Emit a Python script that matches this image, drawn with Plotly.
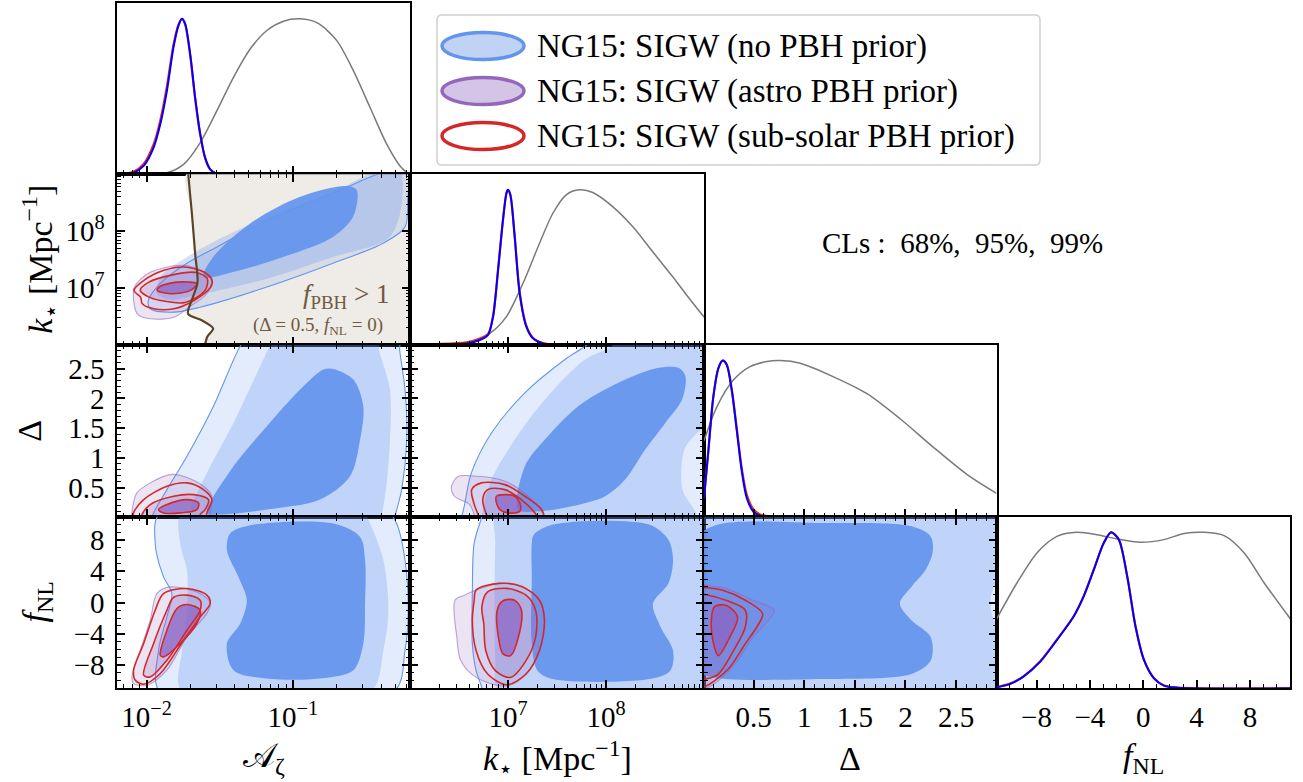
import numpy as np
import plotly.graph_objects as go

W, H = 1303, 782

# ---------------- axis ranges and ticks ----------------
A_RANGE_LOG = [-2.2, -0.2]      # log10 A_zeta
K_RANGE_LOG = [6.0, 9.0]        # log10 k_star
D_RANGE = [0.01, 2.9]
F_RANGE = [-11.0, 11.0]
DIAG_RANGE = [0.0, 1.1]

A_TICKS = [0.01, 0.1]
A_TICKTEXT = ["10<sup>−2</sup>", "10<sup>−1</sup>"]
A_MINOR = [0.007, 0.008, 0.009, 0.02, 0.03, 0.04, 0.05, 0.06, 0.07, 0.08, 0.09,
           0.2, 0.3, 0.4, 0.5, 0.6]
K_TICKS = [1e7, 1e8]
K_TICKTEXT = ["10<sup>7</sup>", "10<sup>8</sup>"]
K_MINOR = [2e6, 3e6, 4e6, 5e6, 6e6, 7e6, 8e6, 9e6, 2e7, 3e7, 4e7, 5e7, 6e7, 7e7, 8e7, 9e7,
           2e8, 3e8, 4e8, 5e8, 6e8, 7e8, 8e8, 9e8]
D_TICKS = [0.5, 1.0, 1.5, 2.0, 2.5]
D_TICKTEXT = ["0.5", "1", "1.5", "2", "2.5"]
D_MINOR = [0.1, 0.2, 0.3, 0.4, 0.6, 0.7, 0.8, 0.9, 1.1, 1.2, 1.3, 1.4, 1.6, 1.7, 1.8, 1.9,
           2.1, 2.2, 2.3, 2.4, 2.6, 2.7, 2.8]
F_TICKS = [-8, -4, 0, 4, 8]
F_TICKTEXT = ["−8", "−4", "0", "4", "8"]
F_MINOR = [-10, -9, -7, -6, -5, -3, -2, -1, 1, 2, 3, 5, 6, 7, 9, 10]

# ---------------- 1D marginals (A and k in log10) ----------------
A_MARG_X = [-2.157, -2.089, -2.02, -1.952, -1.906, -1.861, -1.816, -1.782, -1.758, -1.736,
            -1.702, -1.668, -1.633, -1.6, -1.565, -1.52, -1.4]
A_MARG_BLUE = [0.0, 0.01, 0.054, 0.172, 0.323, 0.537, 0.817, 0.957, 1.0, 0.968,
               0.774, 0.494, 0.258, 0.107, 0.032, 0.004, 0.0]
A_MARG_RED = [0.002, 0.016, 0.066, 0.192, 0.348, 0.565, 0.834, 0.962, 1.0, 0.962,
              0.765, 0.486, 0.252, 0.104, 0.031, 0.004, 0.0]
A_PRIOR_X = [-2.2, -1.997, -1.861, -1.747, -1.633, -1.52, -1.406, -1.292, -1.178, -1.065,
             -0.95, -0.83, -0.7, -0.587, -0.473, -0.359, -0.268, -0.212]
A_PRIOR_Y = [0.0, 0.0, 0.01, 0.064, 0.204, 0.408, 0.624, 0.806, 0.925, 0.985,
             1.0, 0.972, 0.86, 0.667, 0.43, 0.194, 0.054, 0.004]

K_MARG_X = [6.0, 6.237, 6.577, 6.712, 6.797, 6.848, 6.899, 6.949, 6.984, 7.0, 7.024,
            7.068, 7.119, 7.187, 7.254, 7.356, 7.492, 9.0]
K_MARG_BLUE = [0.0, 0.003, 0.01, 0.032, 0.065, 0.183, 0.484, 0.806, 0.978, 1.0, 0.968,
               0.699, 0.333, 0.118, 0.043, 0.01, 0.0, 0.0]
K_MARG_RED = [0.0, 0.006, 0.018, 0.042, 0.072, 0.19, 0.49, 0.81, 0.978, 1.0, 0.968,
              0.705, 0.34, 0.125, 0.047, 0.012, 0.0, 0.0]
K_PRIOR_X = [6.0, 6.577, 6.814, 6.984, 7.153, 7.322, 7.458, 7.594, 7.729, 7.865, 8.068,
             8.272, 8.475, 8.679, 8.848, 9.0]
K_PRIOR_Y = [0.0, 0.01, 0.075, 0.183, 0.398, 0.656, 0.849, 0.968, 1.0, 0.983, 0.892,
             0.763, 0.602, 0.441, 0.301, 0.18]

D_MARG_X = [0.01, 0.053, 0.102, 0.152, 0.195, 0.235, 0.284, 0.334, 0.383, 0.433, 0.498,
            0.564, 0.696, 2.9]
D_MARG_BLUE = [0.119, 0.421, 0.767, 0.951, 1.0, 0.972, 0.81, 0.551, 0.292, 0.119, 0.032,
               0.006, 0.0, 0.0]
D_MARG_RED = [0.119, 0.421, 0.767, 0.951, 1.0, 0.975, 0.818, 0.565, 0.31, 0.14, 0.048,
              0.014, 0.002, 0.0]
D_PRIOR_X = [0.01, 0.136, 0.3, 0.465, 0.631, 0.762, 0.96, 1.29, 1.62, 1.95, 2.28, 2.61, 2.9]
D_PRIOR_Y = [0.486, 0.702, 0.875, 0.961, 0.994, 1.0, 0.983, 0.896, 0.788, 0.626, 0.443,
             0.27, 0.15]

F_MARG_X = [-11.0, -9.98, -8.98, -7.72, -6.47, -5.22, -4.47, -3.71, -2.96, -2.41, -1.83,
            -1.2, -0.58, 0.05, 0.8, 1.55, 2.56, 11.0]
F_MARG_BLUE = [0.006, 0.028, 0.075, 0.171, 0.31, 0.46, 0.589, 0.76, 0.932, 1.0, 0.953,
               0.717, 0.396, 0.182, 0.064, 0.017, 0.004, 0.0]
F_MARG_RED = [0.007, 0.03, 0.077, 0.173, 0.312, 0.46, 0.589, 0.76, 0.932, 1.0, 0.953,
              0.717, 0.398, 0.184, 0.066, 0.018, 0.004, 0.0]
F_PRIOR_X = [-11.03, -9.47, -7.97, -6.47, -4.96, -3.46, -1.95, -0.2, 1.55, 3.05, 4.56,
             6.06, 7.57, 9.07, 11.08]
F_PRIOR_Y = [0.439, 0.675, 0.868, 0.974, 1.0, 0.985, 0.957, 0.936, 0.953, 0.992, 1.0,
             0.979, 0.868, 0.675, 0.439]

# ---------------- f_PBH > 1 boundary (log10 A, log10 k) ----------------
PBH_A = [-1.717, -1.69, -1.668, -1.652, -1.688, -1.717, -1.62, -1.545, -1.586, -1.604]
PBH_K = [9.05, 8.3, 7.6, 7.1, 6.81, 6.55, 6.43, 6.29, 6.14, 5.95]

# ---------------- 2D contours ----------------
# A-k panel (log10 A, log10 k)
AK_BLUE99 = [(-1.975, 6.637), (-1.816, 6.577), (-1.633, 6.665), (-1.178, 7.018), (-0.726, 7.436),
             (-0.384, 7.788), (-0.234, 8.076), (-0.215, 8.6), (-0.2, 9.08), (-0.33, 9.08),
             (-0.726, 8.67), (-1.176, 8.194), (-1.519, 7.723), (-1.724, 7.436), (-1.906, 7.083),
             (-1.988, 6.783)]
AK_BLUE95 = [(-1.724, 6.841), (-1.178, 7.166), (-0.726, 7.547), (-0.35, 7.871), (-0.268, 8.317),
             (-0.27, 9.08), (-0.4, 9.08), (-0.726, 8.693), (-1.178, 8.247), (-1.519, 7.841),
             (-1.724, 7.547), (-1.906, 7.194), (-1.929, 6.906), (-1.84, 6.8)]
AK_BLUE68 = [(-1.611, 7.194), (-1.408, 7.282), (-1.067, 7.547), (-0.726, 7.9), (-0.589, 8.252),
             (-0.564, 8.723), (-0.632, 8.794), (-0.951, 8.605), (-1.292, 8.136), (-1.545, 7.547)]
AK_PURPLE99 = [(-2.091, 6.901), (-2.063, 6.548), (-1.975, 6.46), (-1.813, 6.489), (-1.702, 6.677),
               (-1.6, 6.87), (-1.552, 7.083), (-1.6, 7.277), (-1.75, 7.4), (-1.975, 7.277),
               (-2.077, 7.05)]
AK_RED99 = [(-2.086, 6.96), (-2.041, 6.84), (-2.029, 6.725), (-1.95, 6.637), (-1.813, 6.637),
            (-1.676, 6.783), (-1.563, 7.018), (-1.552, 7.136), (-1.608, 7.282), (-1.745, 7.37),
            (-1.881, 7.312), (-2.018, 7.136)]
AK_RED95 = [(-2.043, 6.96), (-1.99, 6.85), (-1.906, 6.783), (-1.736, 6.748), (-1.6, 6.96),
            (-1.586, 7.17), (-1.668, 7.277), (-1.838, 7.224), (-1.988, 7.1)]
AK_RED68 = [(-1.927, 6.96), (-1.836, 6.901), (-1.7, 6.96), (-1.654, 7.078), (-1.711, 7.106),
            (-1.836, 7.088), (-1.915, 7.018)]

# A-Delta panel (log10 A, Delta)
AD_BLUE99 = [(-1.97, -0.15), (-1.963, 0.01), (-1.861, 0.466), (-1.724, 1.027), (-1.543, 1.869),
             (-1.36, 2.879), (-1.3, 3.05), (-0.28, 3.05), (-0.27, 2.8), (-0.234, 2.15),
             (-0.222, 1.308), (-0.257, 0.466), (-0.302, 0.01), (-0.31, -0.15)]
AD_BLUE95 = [(-1.73, -0.15), (-1.724, 0.01), (-1.588, 0.747), (-1.406, 1.589), (-1.224, 2.542),
             (-1.156, 2.9), (-1.13, 3.05), (-0.43, 3.05), (-0.41, 2.8), (-0.337, 2.15),
             (-0.337, 1.308), (-0.359, 0.579), (-0.393, 0.01), (-0.4, -0.15)]
AD_BLUE68 = [(-1.588, 0.074), (-1.406, 0.859), (-1.178, 1.532), (-0.951, 2.15), (-0.792, 2.487),
             (-0.724, 2.498), (-0.587, 2.318), (-0.519, 1.869), (-0.541, 1.308), (-0.61, 0.69),
             (-0.814, 0.298), (-1.178, 0.13), (-1.497, 0.045)]
AD_PURPLE99 = [(-2.09, -0.1), (-2.089, 0.242), (-2.066, 0.41), (-1.975, 0.579), (-1.838, 0.719),
               (-1.747, 0.69), (-1.611, 0.522), (-1.554, 0.354), (-1.565, 0.074), (-1.58, -0.1)]
AD_RED99 = [(-2.095, -0.1), (-2.089, 0.074), (-2.02, 0.298), (-1.861, 0.522), (-1.724, 0.579),
            (-1.611, 0.466), (-1.554, 0.298), (-1.588, 0.074), (-1.6, -0.1)]
AD_RED95 = [(-2.04, -0.1), (-2.031, 0.045), (-1.975, 0.214), (-1.816, 0.354), (-1.68, 0.382),
            (-1.577, 0.298), (-1.6, 0.13), (-1.634, 0.045), (-1.645, -0.1)]
AD_RED68 = [(-1.918, 0.13), (-1.861, 0.214), (-1.724, 0.298), (-1.645, 0.242), (-1.656, 0.13),
            (-1.77, 0.074), (-1.884, 0.074)]

# A-fNL panel (log10 A, fNL)
AF_BLUE99 = [(-1.906, 11.5), (-1.941, 7.56), (-1.884, 3.28), (-1.827, 1.15), (-1.861, -1.85),
             (-1.918, -6.12), (-1.906, -11.5), (-0.314, -11.5), (-0.234, -6.12), (-0.212, -0.99),
             (-0.234, 5.42), (-0.291, 10.1), (-0.348, 11.5)]
AF_BLUE95 = [(-1.758, 11.5), (-1.77, 7.56), (-1.724, 4.14), (-1.724, -0.99), (-1.758, -6.12),
             (-1.758, -11.5), (-0.473, -11.5), (-0.382, -6.12), (-0.348, -0.99), (-0.382, 5.42),
             (-0.473, 10.1), (-0.519, 11.5)]
AF_BLUE68 = [(-1.429, 8.85), (-1.292, 9.91), (-0.724, 10.13), (-0.541, 8.41), (-0.507, 5.42),
             (-0.507, -0.13), (-0.519, -5.26), (-0.587, -8.68), (-0.814, -9.74), (-1.178, -9.74),
             (-1.406, -8.68), (-1.451, -5.26), (-1.36, -2.69), (-1.315, 0.29), (-1.372, 3.28),
             (-1.451, 6.71)]
AF_PURPLE99 = [(-2.1, -9.54), (-2.043, -6.12), (-1.975, -2.27), (-1.929, 1.15), (-1.838, 2.0),
               (-1.634, 1.15), (-1.565, -0.13), (-1.588, -1.41), (-1.724, -4.41), (-1.861, -8.68),
               (-1.997, -10.6), (-2.089, -10.4)]
AF_RED99 = [(-2.089, -8.68), (-2.02, -5.26), (-1.941, -0.99), (-1.884, 1.15), (-1.724, 1.79),
            (-1.588, 0.94), (-1.565, -0.13), (-1.634, -1.85), (-1.747, -4.83), (-1.906, -9.1),
            (-2.02, -10.47), (-2.077, -9.96)]
AF_RED95 = [(-2.02, -9.32), (-1.952, -5.26), (-1.861, -0.99), (-1.816, 0.64), (-1.724, 0.94),
            (-1.634, 0.29), (-1.634, -0.99), (-1.724, -3.55), (-1.861, -7.4), (-1.975, -9.54)]
AF_RED68 = [(-1.906, -6.76), (-1.861, -3.55), (-1.792, -0.77), (-1.724, -0.26), (-1.634, -0.99),
            (-1.656, -2.69), (-1.77, -5.26), (-1.884, -6.97)]

# k-Delta panel (log10 k, Delta)
KD_BLUE99 = [(6.45, -0.15), (6.524, 0.01), (6.626, 0.747), (6.831, 1.42), (7.172, 2.094),
             (7.581, 2.655), (7.786, 2.879), (7.9, 3.05), (9.2, 3.05), (9.2, -0.15)]
KD_BLUE95 = [(6.72, -0.15), (6.729, 0.01), (6.831, 0.635), (7.07, 1.308), (7.377, 1.981),
             (7.786, 2.655), (8.059, 2.879), (8.12, 3.05), (9.2, 3.05), (9.05, 1.55),
             (8.93, 1.42), (8.8, 1.14), (8.78, 0.466), (8.9, 0.13), (8.96, -0.05), (9.2, -0.15)]
KD_BLUE68 = [(7.103, 0.13), (7.172, 0.859), (7.377, 1.308), (7.717, 1.869), (8.127, 2.263),
             (8.536, 2.515), (8.741, 2.515), (8.81, 2.374), (8.776, 1.981), (8.605, 1.589),
             (8.4, 1.14), (8.195, 0.635), (7.991, 0.354), (7.65, 0.185), (7.308, 0.101)]
KD_PURPLE99 = [(6.422, 0.5), (6.489, 0.685), (6.694, 0.69), (6.916, 0.635), (7.07, 0.522),
               (7.308, 0.185), (7.377, -0.1), (6.71, -0.1), (6.609, 0.214), (6.455, 0.35)]
KD_RED99 = [(6.733, -0.1), (6.65, 0.247), (6.63, 0.466), (6.729, 0.579), (6.967, 0.55),
            (7.172, 0.354), (7.343, 0.13), (7.387, -0.1)]
KD_RED95 = [(6.814, -0.1), (6.742, 0.298), (6.793, 0.466), (6.967, 0.466), (7.172, 0.248),
            (7.305, 0.0), (7.325, -0.1)]
KD_RED68 = [(6.882, 0.354), (6.967, 0.382), (7.07, 0.354), (7.121, 0.242), (7.121, 0.101),
            (7.001, 0.074), (6.916, 0.13), (6.882, 0.242)]

# k-fNL panel (log10 k, fNL)
KF_BLUE99 = [(6.74, 11.5), (6.733, 11.0), (6.655, 7.62), (6.636, 1.15), (6.636, -5.29),
             (6.674, -8.74), (6.733, -10.9), (6.74, -11.5), (9.2, -11.5), (9.2, 11.5)]
KF_BLUE95 = [(6.89, 11.5), (6.871, 7.62), (6.863, -0.99), (6.871, -7.45), (6.91, -11.5),
             (9.2, -11.5), (9.2, 11.5)]
KF_BLUE68 = [(7.263, 8.69), (7.459, 9.99), (8.439, 9.99), (8.636, 8.05), (8.684, 5.46),
             (8.636, 2.45), (8.479, -0.13), (8.557, -3.14), (8.684, -6.15), (8.656, -8.74),
             (8.439, -9.82), (7.459, -9.82), (7.302, -8.74), (7.243, -5.29), (7.243, 3.31),
             (7.243, 7.62)]
KF_PURPLE99 = [(6.459, 0.29), (6.55, 0.9), (6.674, 1.59), (6.91, 2.45), (7.145, 2.03),
               (7.321, 0.29), (7.372, -2.28), (7.321, -6.15), (7.184, -9.17), (6.989, -10.68),
               (6.674, -9.6), (6.518, -7.45), (6.478, -4.47)]
KF_RED99 = [(6.655, 0.29), (6.674, 1.59), (6.91, 2.45), (7.145, 2.03), (7.321, 0.29),
            (7.372, -2.28), (7.321, -6.15), (7.184, -9.17), (6.989, -10.55), (6.792, -9.17),
            (6.674, -6.15), (6.636, -2.28)]
KF_RED95 = [(6.792, 1.37), (6.989, 1.81), (7.184, 0.94), (7.282, -0.99), (7.282, -4.44),
            (7.184, -7.45), (7.027, -9.6), (6.871, -8.74), (6.773, -6.15), (6.753, -2.72),
            (6.733, -0.56)]
KF_RED68 = [(6.89, -0.99), (6.949, 0.22), (7.067, 0.29), (7.137, -0.99), (7.106, -4.44),
            (7.027, -6.81), (6.949, -6.59), (6.902, -4.44)]

# Delta-fNL panel (Delta, fNL)
DF_BLUE99 = [(-0.2, -12.0), (3.1, -12.0), (3.1, 12.0), (-0.2, 12.0)]
DF_BLUE95 = [(-0.2, -12.0), (3.1, -12.0), (3.1, -3.5), (2.92, -3.0), (2.86, -1.8), (2.84, 0.0),
             (2.86, 1.5), (2.92, 2.8), (3.1, 3.3), (3.1, 12.0), (-0.2, 12.0)]
DF_BLUE68 = [(0.15, 10.0), (1.18, 10.2), (2.06, 9.77), (2.25, 8.47), (2.27, 6.5), (2.2, 4.2),
             (2.06, 2.03), (1.945, -0.13), (2.06, -2.28), (2.25, -4.44), (2.25, -7.45),
             (2.06, -9.17), (1.18, -9.82), (0.11, -9.6), (-0.05, -8.7), (-0.05, 8.3)]
DF_PURPLE99 = [(-0.05, 2.3), (0.03, 2.23), (0.227, 1.81), (0.494, 0.29), (0.705, -0.99),
               (0.648, -2.28), (0.494, -4.44), (0.342, -7.45), (0.151, -10.04), (0.03, -11.0),
               (-0.05, -11.2)]
DF_RED99 = [(-0.05, 1.95), (0.03, 1.9), (0.187, 1.59), (0.418, 0.29), (0.589, -1.42),
            (0.532, -3.14), (0.418, -5.29), (0.265, -8.31), (0.113, -10.04), (0.03, -10.7),
            (-0.05, -10.8)]
DF_RED95 = [(-0.05, 1.1), (0.03, 1.0), (0.227, 0.29), (0.418, -0.99), (0.418, -3.14),
            (0.303, -6.15), (0.151, -9.17), (0.03, -9.8), (-0.05, -9.9)]
DF_RED68 = [(0.113, -0.56), (0.227, -0.35), (0.342, -1.86), (0.265, -4.44), (0.151, -6.81),
            (0.105, -5.29), (0.082, -2.28)]

# ---------------- styles ----------------
BLUE_LINE = "rgb(100,149,237)"
B99_FILL = "rgba(100,149,237,0.18)"
B95_FILL = "rgba(100,149,237,0.28)"
B68_FILL = "rgba(100,149,237,0.93)"
PURPLE_LINE = "rgba(148,103,189,0.6)"
P99_FILL = "rgba(148,103,189,0.18)"
P95_FILL = "rgba(148,103,189,0.22)"
P68_FILL = "rgba(140,100,195,0.72)"
RED = "#d62728"
BEIGE = "#efebe7"
BROWN = "#5e4427"
TEXT_BROWN = "#705a40"
SERIF = "Liberation Serif, Times New Roman, serif"

# ---------------- layout geometry (pixels) ----------------
COLS = {1: (117.3, 410.0), 2: (410.0, 704.0), 3: (704.0, 996.5), 4: (996.5, 1290.0)}
ROWS = {1: (3.3, 174.3), 2: (174.3, 345.0), 3: (345.0, 516.7), 4: (516.7, 688.3)}
VARS = {1: "A", 2: "k", 3: "D", 4: "f"}
PANELS = [(1, 1), (2, 1), (2, 2), (3, 1), (3, 2), (3, 3), (4, 1), (4, 2), (4, 3), (4, 4)]
IDX = {p: i + 1 for i, p in enumerate(PANELS)}


def px(x):
    return x / W


def py(y):
    return 1 - y / H


def conv(var, vals):
    v = np.asarray(vals, dtype=float)
    return np.power(10.0, v) if var in ("A", "k") else v


def axis_spec(var):
    if var == "A":
        return dict(type="log", range=A_RANGE_LOG, tickvals=A_TICKS, ticktext=A_TICKTEXT, minor_vals=A_MINOR)
    if var == "k":
        return dict(type="log", range=K_RANGE_LOG, tickvals=K_TICKS, ticktext=K_TICKTEXT, minor_vals=K_MINOR)
    if var == "D":
        return dict(type="linear", range=D_RANGE, tickvals=D_TICKS, ticktext=D_TICKTEXT, minor_vals=D_MINOR)
    return dict(type="linear", range=F_RANGE, tickvals=F_TICKS, ticktext=F_TICKTEXT, minor_vals=F_MINOR)


fig = go.Figure()
layout = dict(width=W, height=H, margin=dict(l=0, r=0, t=0, b=0), autosize=False,
              paper_bgcolor="white", plot_bgcolor="white", showlegend=False)

TICKFONT = dict(family=SERIF, size=29, color="black")

for (r, c) in PANELS:
    n = IDX[(r, c)]
    xa = "xaxis" if n == 1 else f"xaxis{n}"
    ya = "yaxis" if n == 1 else f"yaxis{n}"
    xs = axis_spec(VARS[c])
    x_ax = dict(domain=[px(COLS[c][0]), px(COLS[c][1])], anchor=("y" if n == 1 else f"y{n}"),
                type=xs["type"], range=xs["range"], tickmode="array", tickvals=xs["tickvals"],
                ticktext=xs["ticktext"], ticks="inside", ticklen=8, tickwidth=1.5, tickcolor="black",
                showline=True, linecolor="black", linewidth=1.8, showgrid=False, zeroline=False,
                showticklabels=(r == 4), tickfont=TICKFONT, ticklabelstandoff=2,
                minor=dict(tickmode="array", tickvals=xs["minor_vals"], ticks="inside", ticklen=4,
                           tickwidth=1.2, tickcolor="black", showgrid=False),
                mirror=("ticks" if r != c else True), fixedrange=True)
    if r == c:
        y_ax = dict(domain=[py(ROWS[r][1]), py(ROWS[r][0])], anchor=("x" if n == 1 else f"x{n}"),
                    range=DIAG_RANGE, showticklabels=False, ticks="", showline=True, linecolor="black",
                    linewidth=1.8, mirror=True, showgrid=False, zeroline=False, fixedrange=True)
    else:
        ys = axis_spec(VARS[r])
        y_ax = dict(domain=[py(ROWS[r][1]), py(ROWS[r][0])], anchor=("x" if n == 1 else f"x{n}"),
                    type=ys["type"], range=ys["range"], tickmode="array", tickvals=ys["tickvals"],
                    ticktext=ys["ticktext"], ticks="inside", ticklen=8, tickwidth=1.5, tickcolor="black",
                    showline=True, linecolor="black", linewidth=1.8, showgrid=False, zeroline=False,
                    showticklabels=(c == 1), tickfont=TICKFONT, ticklabelstandoff=5,
                    minor=dict(tickmode="array", tickvals=ys["minor_vals"], ticks="inside", ticklen=4,
                               tickwidth=1.2, tickcolor="black", showgrid=False),
                    mirror="ticks", fixedrange=True)
    layout[xa] = x_ax
    layout[ya] = y_ax


def refs(r, c):
    n = IDX[(r, c)]
    return ("x" if n == 1 else f"x{n}"), ("y" if n == 1 else f"y{n}")


def add_poly(r, c, pts, fill=None, line_color=None, line_width=0.0, closed=True):
    xr, yr = refs(r, c)
    xs = [p[0] for p in pts]
    ys = [p[1] for p in pts]
    if closed:
        xs = xs + [xs[0]]
        ys = ys + [ys[0]]
    fig.add_trace(go.Scatter(
        x=conv(VARS[c], xs), y=conv(VARS[r], ys), mode="lines",
        line=dict(color=line_color if line_color else "rgba(0,0,0,0)", width=line_width,
                  shape="spline", smoothing=0.9),
        fill="toself" if fill else "none", fillcolor=fill, xaxis=xr, yaxis=yr,
        hoverinfo="skip"))


def add_curve(r, c, xs, ys, color, width):
    xr, yr = refs(r, c)
    fig.add_trace(go.Scatter(x=conv(VARS[c], xs), y=ys, mode="lines",
                             line=dict(color=color, width=width, shape="spline", smoothing=0.8),
                             xaxis=xr, yaxis=yr, hoverinfo="skip"))


# ----- f_PBH > 1 region in the A-k panel -----
beige_pts = list(zip(PBH_A, PBH_K)) + [(A_RANGE_LOG[1] + 0.2, PBH_K[-1]), (A_RANGE_LOG[1] + 0.2, PBH_K[0])]
add_poly(2, 1, beige_pts, fill=BEIGE)

# ----- 2D contours -----
CONTOURS = {
    (2, 1): (AK_BLUE99, AK_BLUE95, AK_BLUE68, AK_PURPLE99, AK_RED99, AK_RED95, AK_RED68, True),
    (3, 1): (AD_BLUE99, AD_BLUE95, AD_BLUE68, AD_PURPLE99, AD_RED99, AD_RED95, AD_RED68, False),
    (4, 1): (AF_BLUE99, AF_BLUE95, AF_BLUE68, AF_PURPLE99, AF_RED99, AF_RED95, AF_RED68, True),
    (3, 2): (KD_BLUE99, KD_BLUE95, KD_BLUE68, KD_PURPLE99, KD_RED99, KD_RED95, KD_RED68, False),
    (4, 2): (KF_BLUE99, KF_BLUE95, KF_BLUE68, KF_PURPLE99, KF_RED99, KF_RED95, KF_RED68, True),
    (4, 3): (DF_BLUE99, DF_BLUE95, DF_BLUE68, DF_PURPLE99, DF_RED99, DF_RED95, DF_RED68, False),
}
for (r, c), (b99, b95, b68, p99, r99, r95, r68, outer_closed) in CONTOURS.items():
    add_poly(r, c, b99, fill=B99_FILL, line_color=BLUE_LINE, line_width=1.1)
    add_poly(r, c, b95, fill=B95_FILL)
    add_poly(r, c, b68, fill=B68_FILL)
    add_poly(r, c, p99, fill=P99_FILL, line_color=PURPLE_LINE, line_width=1.1)
    add_poly(r, c, r95, fill=P95_FILL, closed=outer_closed)
    add_poly(r, c, r68, fill=P68_FILL)
    add_poly(r, c, r99, line_color=RED, line_width=1.6, closed=outer_closed)
    add_poly(r, c, r95, line_color=RED, line_width=1.6, closed=outer_closed)
    add_poly(r, c, r68, line_color=RED, line_width=1.6)

# brown boundary line on top
xr, yr = refs(2, 1)
fig.add_trace(go.Scatter(x=conv("A", PBH_A), y=conv("k", PBH_K), mode="lines",
                         line=dict(color=BROWN, width=2.2, shape="spline", smoothing=0.8),
                         xaxis=xr, yaxis=yr, hoverinfo="skip"))

# ----- 1D marginals -----
GREY = "#7a7a7a"
add_curve(1, 1, A_PRIOR_X, A_PRIOR_Y, GREY, 1.5)
add_curve(1, 1, A_MARG_X, A_MARG_RED, "#f02a1a", 2.2)
add_curve(1, 1, A_MARG_X, A_MARG_BLUE, "#0000ff", 2.0)
add_curve(2, 2, K_PRIOR_X, K_PRIOR_Y, GREY, 1.5)
add_curve(2, 2, K_MARG_X, K_MARG_RED, "#f02a1a", 2.2)
add_curve(2, 2, K_MARG_X, K_MARG_BLUE, "#0000ff", 2.0)
add_curve(3, 3, D_PRIOR_X, D_PRIOR_Y, GREY, 1.5)
add_curve(3, 3, D_MARG_X, D_MARG_RED, "#f02a1a", 2.2)
add_curve(3, 3, D_MARG_X, D_MARG_BLUE, "#0000ff", 2.0)
add_curve(4, 4, F_PRIOR_X, F_PRIOR_Y, GREY, 1.5)
add_curve(4, 4, F_MARG_X, F_MARG_RED, "#f02a1a", 2.2)
add_curve(4, 4, F_MARG_X, F_MARG_BLUE, "#0000ff", 2.0)

# ----- legend (manual) -----
shapes = []
bx0, bx1, by0, by1, rad = 437.0, 1040.0, 15.0, 165.0, 5.0
rx, ry = rad / W, rad / H
X0, X1, Y0, Y1 = px(bx0), px(bx1), py(by1), py(by0)
path = (f"M {X0+rx},{Y0} L {X1-rx},{Y0} Q {X1},{Y0} {X1},{Y0+ry} L {X1},{Y1-ry} "
        f"Q {X1},{Y1} {X1-rx},{Y1} L {X0+rx},{Y1} Q {X0},{Y1} {X0},{Y1-ry} L {X0},{Y0+ry} "
        f"Q {X0},{Y0} {X0+rx},{Y0} Z")
shapes.append(dict(type="path", path=path, xref="paper", yref="paper",
                   line=dict(color="#d0d0d0", width=1.5), fillcolor="white", layer="above"))

LEGEND_LABELS = ["NG15: SIGW (no PBH prior)", "NG15: SIGW (astro PBH prior)",
                 "NG15: SIGW (sub-solar PBH prior)"]
LEGEND_EDGE = [BLUE_LINE, "rgb(148,103,189)", RED]
LEGEND_FILL = ["rgb(192,211,245)", "rgb(212,196,230)", "white"]
LEGEND_Y = [46.0, 91.0, 136.0]
annotations = []
for lab, ec, fc, yc in zip(LEGEND_LABELS, LEGEND_EDGE, LEGEND_FILL, LEGEND_Y):
    shapes.append(dict(type="circle", xref="paper", yref="paper",
                       x0=px(442), x1=px(524), y0=py(yc + 13.5), y1=py(yc - 13.5),
                       line=dict(color=ec, width=3.5), fillcolor=fc, layer="above"))
    annotations.append(dict(text=lab, x=px(535), y=py(yc), xref="paper", yref="paper",
                            xanchor="left", yanchor="middle", showarrow=False,
                            font=dict(family=SERIF, size=33, color="black")))

# ----- texts -----
annotations.append(dict(text="CLs :  68%,  95%,  99%", x=px(962), y=py(243), xref="paper", yref="paper",
                        xanchor="center", yanchor="middle", showarrow=False,
                        font=dict(family=SERIF, size=29, color="black")))
annotations.append(dict(text="<i>f</i><sub>PBH</sub> > 1", x=px(346), y=py(296), xref="paper", yref="paper",
                        xanchor="center", yanchor="middle", showarrow=False,
                        font=dict(family=SERIF, size=27, color=TEXT_BROWN)))
annotations.append(dict(text="(Δ = 0.5, <i>f</i><sub>NL</sub> = 0)", x=px(318), y=py(326),
                        xref="paper", yref="paper", xanchor="center", yanchor="middle", showarrow=False,
                        font=dict(family=SERIF, size=19, color=TEXT_BROWN)))

TITLE_FONT = dict(family=SERIF, size=34, color="black")
X_TITLES = ["𝒜<sub>ζ</sub>", "<i>k</i><sub>⋆</sub> [Mpc<sup>−1</sup>]", "Δ", "<i>f</i><sub>NL</sub>"]
for c, t in zip([1, 2, 3, 4], X_TITLES):
    annotations.append(dict(text=t, x=px((COLS[c][0] + COLS[c][1]) / 2), y=py(758), xref="paper",
                            yref="paper", xanchor="center", yanchor="middle", showarrow=False,
                            font=TITLE_FONT))
Y_TITLES = {2: ("<i>k</i><sub>⋆</sub> [Mpc<sup>−1</sup>]", 40), 3: ("Δ", 30), 4: ("<i>f</i><sub>NL</sub>", 36)}
for r, (t, xc) in Y_TITLES.items():
    annotations.append(dict(text=t, x=px(xc), y=py((ROWS[r][0] + ROWS[r][1]) / 2), xref="paper",
                            yref="paper", xanchor="center", yanchor="middle", showarrow=False,
                            textangle=-90, font=TITLE_FONT))

layout["shapes"] = shapes
layout["annotations"] = annotations
fig.update_layout(**layout)
fig.write_html("out.html")
